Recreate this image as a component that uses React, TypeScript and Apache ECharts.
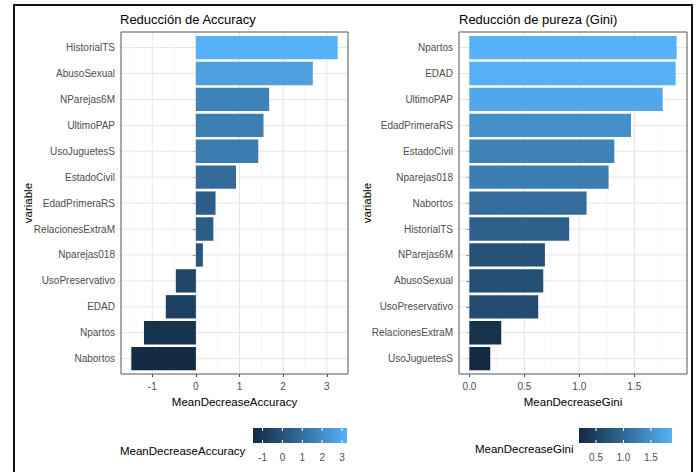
import React, { useEffect, useRef } from 'react';
import * as echarts from 'echarts';

// ---- data ----
const accVariables = ['HistorialTS', 'AbusoSexual', 'NParejas6M', 'UltimoPAP', 'UsoJuguetesS', 'EstadoCivil', 'EdadPrimeraRS', 'RelacionesExtraM', 'Nparejas018', 'UsoPreservativo', 'EDAD', 'Npartos', 'Nabortos'];
const accValues = [3.25, 2.68, 1.68, 1.55, 1.43, 0.92, 0.45, 0.40, 0.16, -0.46, -0.69, -1.19, -1.48];
const giniVariables = ['Npartos', 'EDAD', 'UltimoPAP', 'EdadPrimeraRS', 'EstadoCivil', 'Nparejas018', 'Nabortos', 'HistorialTS', 'NParejas6M', 'AbusoSexual', 'UsoPreservativo', 'RelacionesExtraM', 'UsoJuguetesS'];
const giniValues = [1.885, 1.876, 1.758, 1.47, 1.318, 1.266, 1.066, 0.908, 0.687, 0.672, 0.626, 0.29, 0.19];
const accTicks = [-1, 0, 1, 2, 3];
const giniTicks = [0, 0.5, 1, 1.5];
const accLegendTicks = [-1, 0, 1, 2, 3];
const giniLegendTicks = [0.5, 1.0, 1.5];
const gradientStops = ['#132B43', '#234A6E', '#336A98', '#448EC7', '#56B1F7'];

const FONT = 'Liberation Sans, Arial, sans-serif';

function padExtent(vals: number[]) {
  const lo = Math.min(0, ...vals);
  const hi = Math.max(0, ...vals);
  const pad = (hi - lo) * 0.05;
  return [lo - pad, hi + pad];
}
function minorOf(ticks: number[], ext: number[]) {
  const step = ticks[1] - ticks[0];
  const out: number[] = [];
  const first = ticks[0] - step / 2;
  for (let v = first; v <= ext[1]; v += step) {
    if (v >= ext[0] && v <= ext[1]) out.push(Math.round(v * 1000) / 1000);
  }
  return out;
}
function colorFor(v: number, vals: number[]) {
  const mn = Math.min(...vals), mx = Math.max(...vals);
  return echarts.color.lerp((v - mn) / (mx - mn), gradientStops) as string;
}

export default function App() {
  const ref = useRef<HTMLDivElement>(null);
  useEffect(() => {
    const chart = echarts.init(ref.current!, undefined, { renderer: 'svg' });
    const accExt = padExtent(accValues);
    const giniExt = padExtent(giniValues);
    const accMinor = minorOf(accTicks, accExt);
    const giniMinor = minorOf(giniTicks, giniExt);

    const gridLineSeries = (idx: number, majors: number[], minors: number[], cats: string[]) => [
      {
        type: 'custom', xAxisIndex: idx, yAxisIndex: idx, z: 1, silent: true,
        data: [...majors.map((v) => [v, 0, 1]), ...minors.map((v) => [v, 0, 0])],
        renderItem: (params: any, api: any) => {
          const cs = params.coordSys;
          const p = api.coord([api.value(0), 0]);
          const major = api.value(2) === 1;
          return {
            type: 'line',
            shape: { x1: p[0], y1: cs.y - 3, x2: p[0], y2: cs.y + cs.height + 3 },
            style: { stroke: major ? '#E6E6E6' : '#F2F2F2', lineWidth: major ? 1 : 0.7 },
          };
        },
      },
      {
        type: 'custom', xAxisIndex: idx, yAxisIndex: idx, z: 1, silent: true,
        data: cats.map((_, i) => [0, i]),
        renderItem: (params: any, api: any) => {
          const cs = params.coordSys;
          const p = api.coord([0, api.value(1)]);
          return {
            type: 'line',
            shape: { x1: cs.x, y1: p[1], x2: cs.x + cs.width, y2: p[1] },
            style: { stroke: '#E6E6E6', lineWidth: 1 },
          };
        },
      },
    ];

    const barSeries = (idx: number, vals: number[]) => ({
      type: 'bar', xAxisIndex: idx, yAxisIndex: idx, z: 2,
      barCategoryGap: '10%',
      data: vals.map((v) => ({ value: v, itemStyle: { color: colorFor(v, vals) } })),
    });

    const legendSeries = (idx: number, vals: number[], ticks: number[], fmt: (v: number) => string) => [
      {
        type: 'custom', xAxisIndex: idx, yAxisIndex: idx, z: 2, silent: true,
        data: [[Math.min(...vals), Math.max(...vals)]],
        renderItem: (_p: any, api: any) => {
          const a = api.coord([api.value(0), 0]);
          const b = api.coord([api.value(1), 1]);
          return {
            type: 'rect',
            shape: { x: a[0], y: b[1], width: b[0] - a[0], height: a[1] - b[1] },
            style: {
              fill: new echarts.graphic.LinearGradient(0, 0, 1, 0,
                gradientStops.map((c, i) => ({ offset: i / (gradientStops.length - 1), color: c }))),
            },
          };
        },
      },
      {
        type: 'custom', xAxisIndex: idx, yAxisIndex: idx, z: 3, silent: true,
        data: ticks.map((t) => [t]),
        renderItem: (_p: any, api: any) => {
          const v = api.value(0);
          const bot = api.coord([v, 0]);
          const top = api.coord([v, 1]);
          return {
            type: 'group',
            children: [
              { type: 'line', shape: { x1: top[0], y1: top[1], x2: top[0], y2: top[1] + 3 }, style: { stroke: '#fff', lineWidth: 1 } },
              { type: 'line', shape: { x1: bot[0], y1: bot[1] - 3, x2: bot[0], y2: bot[1] }, style: { stroke: '#fff', lineWidth: 1 } },
              { type: 'text', x: bot[0], y: bot[1] + 9, style: { text: fmt(v), align: 'center', verticalAlign: 'top', fill: '#4D4D4D', fontSize: 10, fontFamily: FONT } },
            ],
          };
        },
      },
    ];

    const mainX = (idx: number, ext: number[], name: string, fmt: (v: number) => string) => ({
      type: 'value', gridIndex: idx, min: ext[0], max: ext[1], offset: 2.4,
      name, nameLocation: 'middle', nameGap: 22, nameMoveOverlap: false,
      nameTextStyle: { fontSize: 11.5, color: '#000', fontFamily: FONT },
      axisLine: { show: false },
      axisTick: { show: true, length: 3, lineStyle: { color: '#444' } },
      axisLabel: { color: '#4D4D4D', fontSize: 10, margin: 7, fontFamily: FONT, showMinLabel: false, showMaxLabel: false, formatter: fmt },
      splitLine: { show: false },
    });
    const mainY = (idx: number, cats: string[], gap: number) => ({
      type: 'category', gridIndex: idx, data: cats, inverse: true,
      name: 'variable', nameLocation: 'middle', nameRotate: 90, nameGap: gap, nameMoveOverlap: false,
      nameTextStyle: { fontSize: 11.5, color: '#000', fontFamily: FONT },
      axisLine: { show: false },
      axisTick: { show: true, alignWithLabel: true, length: 3, lineStyle: { color: '#444' } },
      axisLabel: { color: '#4D4D4D', fontSize: 10, margin: 6, fontFamily: FONT },
      splitLine: { show: false },
    });

    chart.setOption({
      animation: false,
      backgroundColor: '#fff',
      title: [
        { text: 'Reducción de Accuracy', left: 120, top: 13, padding: 0, textStyle: { fontSize: 13, fontWeight: 'normal', color: '#000', fontFamily: FONT } },
        { text: 'Reducción de pureza (Gini)', left: 459, top: 13, padding: 0, textStyle: { fontSize: 13, fontWeight: 'normal', color: '#000', fontFamily: FONT } },
      ],
      grid: [
        { left: 121, top: 34.6, width: 227, height: 337, containLabel: false, outerBoundsMode: 'none' },
        { left: 459, top: 34.6, width: 228, height: 337, containLabel: false, outerBoundsMode: 'none' },
        { left: 253, top: 428, width: 94, height: 15, containLabel: false, outerBoundsMode: 'none' },
        { left: 579, top: 428, width: 93, height: 15, containLabel: false, outerBoundsMode: 'none' },
      ],
      xAxis: [
        mainX(0, accExt, 'MeanDecreaseAccuracy', (v: number) => String(v)),
        mainX(1, giniExt, 'MeanDecreaseGini', (v: number) => v.toFixed(1)),
        { type: 'value', gridIndex: 2, show: false, min: Math.min(...accValues), max: Math.max(...accValues) },
        { type: 'value', gridIndex: 3, show: false, min: Math.min(...giniValues), max: Math.max(...giniValues) },
      ],
      yAxis: [
        mainY(0, accVariables, 87),
        mainY(1, giniVariables, 86),
        { type: 'value', gridIndex: 2, show: false, min: 0, max: 1 },
        { type: 'value', gridIndex: 3, show: false, min: 0, max: 1 },
      ],
      series: [
        ...gridLineSeries(0, accTicks, accMinor, accVariables),
        ...gridLineSeries(1, giniTicks, giniMinor, giniVariables),
        barSeries(0, accValues),
        barSeries(1, giniValues),
        ...legendSeries(2, accValues, accLegendTicks, (v) => String(v)),
        ...legendSeries(3, giniValues, giniLegendTicks, (v) => v.toFixed(1)),
      ],
      graphic: [
        { type: 'rect', z: 10, silent: true, shape: { x: 121, y: 32, width: 227, height: 342 }, style: { fill: 'none', stroke: '#555', lineWidth: 1 } },
        { type: 'rect', z: 10, silent: true, shape: { x: 459, y: 32, width: 228, height: 342 }, style: { fill: 'none', stroke: '#555', lineWidth: 1 } },
        { type: 'polyline', z: 10, silent: true, shape: { points: [[14, 472], [14, 5], [692, 5], [692, 472]] }, style: { fill: 'none', stroke: '#111', lineWidth: 2 } },
        { type: 'text', z: 10, silent: true, x: 120, y: 451, style: { text: 'MeanDecreaseAccuracy', fontSize: 11.5, fill: '#000', fontFamily: FONT, verticalAlign: 'middle' } },
        { type: 'text', z: 10, silent: true, x: 475, y: 449, style: { text: 'MeanDecreaseGini', fontSize: 11.5, fill: '#000', fontFamily: FONT, verticalAlign: 'middle' } },
      ],
    });
    return () => chart.dispose();
  }, []);
  return <div ref={ref} style={{ position: 'absolute', left: 0, top: 0, width: 696, height: 472 }} />;
}
